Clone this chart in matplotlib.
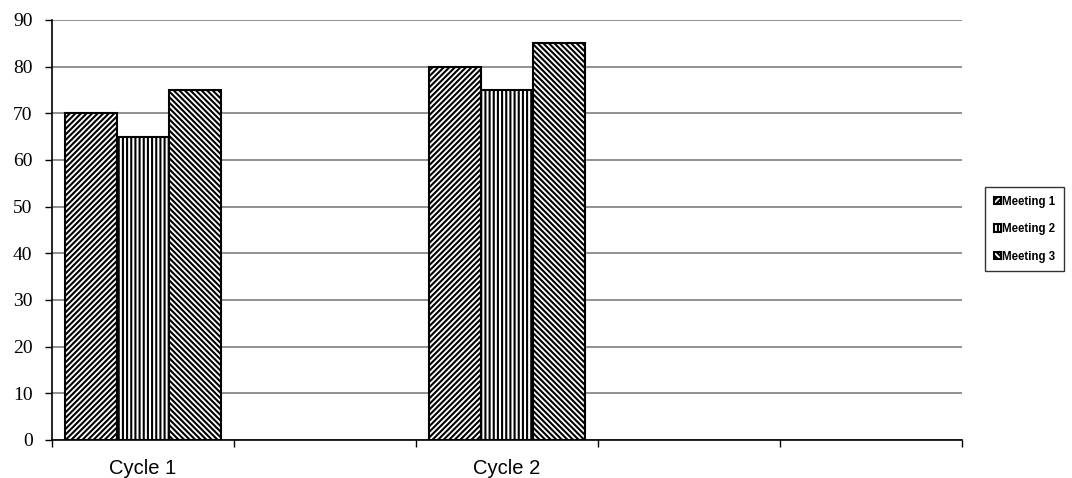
import numpy as np
import matplotlib.pyplot as plt
import matplotlib as mpl

# chart data
categories = ['Cycle 1', '', 'Cycle 2', '', '']
meeting_1 = [70, np.nan, 80, np.nan, np.nan]
meeting_2 = [65, np.nan, 75, np.nan, np.nan]
meeting_3 = [75, np.nan, 85, np.nan, np.nan]
series_names = ['Meeting 1', 'Meeting 2', 'Meeting 3']
y_ticks = list(range(0, 91, 10))

mpl.rcParams['hatch.linewidth'] = 1.5

fig = plt.figure(figsize=(10.72, 4.78), dpi=100)
ax = fig.add_axes([52 / 1072, 38 / 478, 910 / 1072, 420 / 478])

x = np.arange(len(categories))
w = 0.287
hatches = ['//////', '||||', '\\\\\\\\\\\\']
series = [meeting_1, meeting_2, meeting_3]
bars = []
for i, (vals, h) in enumerate(zip(series, hatches)):
    b = ax.bar(x + (i - 1) * w + 0.5, vals, w, facecolor='white',
               edgecolor='black', hatch=h, linewidth=1.5, zorder=3,
               label=series_names[i])
    bars.append(b)

ax.set_xlim(0, len(categories))
ax.set_ylim(0, 90)
ax.set_yticks(y_ticks)
ax.set_yticklabels([str(t) for t in y_ticks], family='Liberation Serif', fontsize=14)
ax.set_xticks(np.arange(len(categories) + 1))
ax.set_xticklabels([])
ax.set_xticks(x + 0.5, minor=True)
ax.set_xticklabels(categories, minor=True, family='Liberation Sans', fontsize=14.5)
ax.tick_params(axis='x', which='minor', length=0, pad=14)
ax.tick_params(axis='x', which='major', length=5, width=1, direction='out')
ax.tick_params(axis='y', length=5, width=1, direction='out', pad=9)

ax.grid(axis='y', color='#888888', linewidth=1.3, zorder=0)
ax.spines['top'].set_visible(False)
ax.spines['right'].set_visible(False)
ax.spines['left'].set_linewidth(1.2)
ax.spines['bottom'].set_linewidth(1.2)

leg = fig.legend(handles=bars, labels=series_names, loc='upper left',
                 bbox_to_anchor=(985 / 1072, 1 - 187 / 478),
                 prop={'family': 'Liberation Sans', 'weight': 'bold', 'size': 8.3},
                 frameon=True, fancybox=False, edgecolor='black',
                 handlelength=0.6, handleheight=0.6, handletextpad=0.1,
                 borderpad=0.75, labelspacing=1.35, borderaxespad=0)
leg.get_frame().set_linewidth(1.0)

fig.savefig('out.png', dpi=100)
